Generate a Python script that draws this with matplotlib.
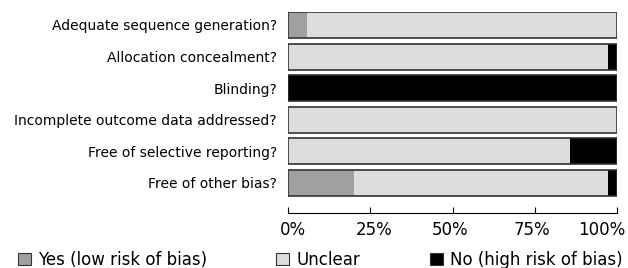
import numpy as np
import matplotlib
matplotlib.use('Agg')
from matplotlib import pyplot as plt
from matplotlib.patches import Patch
from matplotlib.transforms import ScaledTranslation

# data: number of studies (out of 35) per judgement
domains = ['Adequate sequence generation?', 'Allocation concealment?', 'Blinding?',
           'Incomplete outcome data addressed?', 'Free of selective reporting?',
           'Free of other bias?']
yes = np.array([2, 0, 0, 0, 0, 7])
unclear = np.array([33, 34, 0, 35, 30, 27])
no = np.array([0, 1, 35, 0, 5, 1])
ticks = [0, 25, 50, 75, 100]
legend_labels = ['Yes (low risk of bias)', 'Unclear', 'No (high risk of bias)']

total = yes + unclear + no
p_yes = yes / total * 100
p_unc = unclear / total * 100
p_no = no / total * 100

col_yes, col_unc, col_no = '#a0a0a0', '#dcdddc', '#000000'
edge = '#333333'

plt.rcParams['font.family'] = 'DejaVu Sans'
fig = plt.figure(figsize=(6.28, 2.68), dpi=100)
ax = fig.add_axes([288/628, 55/268, 329/628, 201/268])

y = np.arange(len(domains))
h = 0.82
ax.barh(y, p_yes, height=h, color=col_yes, edgecolor='none')
ax.barh(y, p_unc, left=p_yes, height=h, color=col_unc, edgecolor='none')
ax.barh(y, p_no, left=p_yes + p_unc, height=h, color=col_no, edgecolor='none')
# outline around each full bar
ax.barh(y, total / total * 100, height=h, color='none', edgecolor=edge, linewidth=1.2)

ax.set_ylim(5.95, -0.41)
ax.set_xlim(0, 100)
ax.set_yticks(y)
ax.set_yticklabels(domains, fontsize=10)
ax.tick_params(axis='y', length=0, pad=8)
ax.set_xticks(ticks)
ax.set_xticklabels([f'{t}%' for t in ticks], fontsize=12)
ax.tick_params(axis='x', direction='in', length=4.5, width=0.8, pad=6)
# nudge tick labels like the original layout (pixels)
shifts = [5, 4, -2, -3, -15]
for lab, dx in zip(ax.get_xticklabels(), shifts):
    lab.set_transform(lab.get_transform() + ScaledTranslation(dx / 100, 0, fig.dpi_scale_trans))
for s in ['top', 'right', 'left']:
    ax.spines[s].set_visible(False)
ax.spines['bottom'].set_linewidth(0.8)

# legend entries placed individually
xs = [18/628, 276/628, 430/628]
for c, lab, x0 in zip((col_yes, col_unc, col_no), legend_labels, xs):
    fig.legend([Patch(facecolor=c, edgecolor=edge, linewidth=0.8)], [lab],
               loc='center left', bbox_to_anchor=(x0, 8/268), frameon=False,
               fontsize=12, handlelength=0.75, handleheight=0.75,
               handletextpad=0.45, borderaxespad=0, borderpad=0)

fig.savefig('out.png', dpi=100)
